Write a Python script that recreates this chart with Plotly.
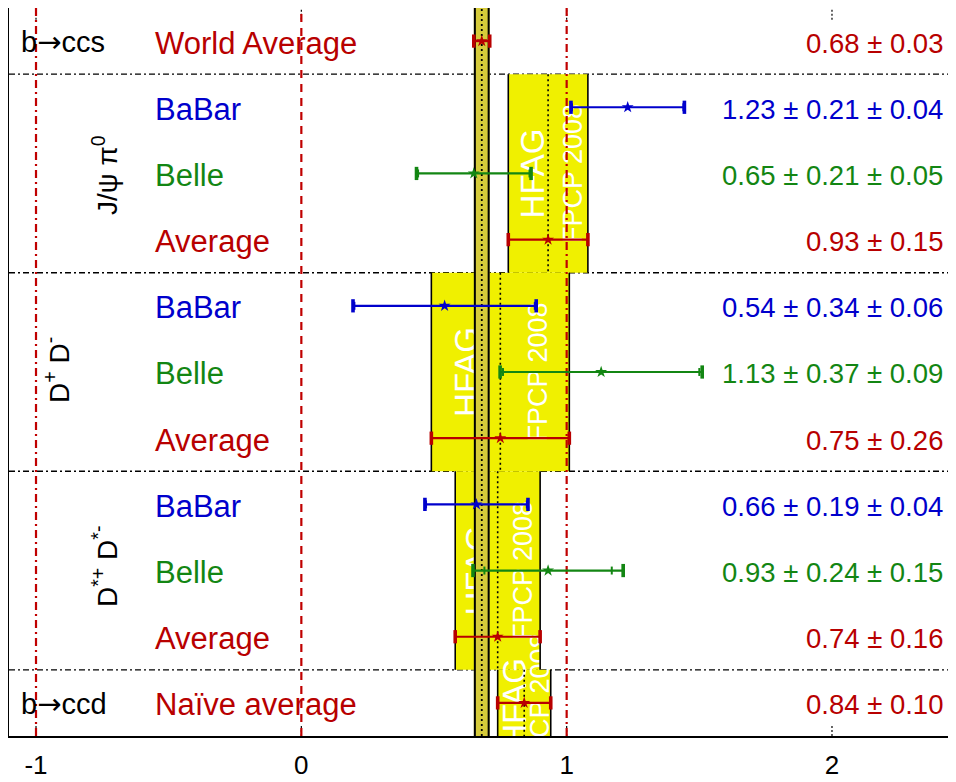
import math
import plotly.graph_objects as go

# ---------------- data ----------------
row_labels = ["World Average", "BaBar", "Belle", "Average",
              "BaBar", "Belle", "Average",
              "BaBar", "Belle", "Average", "Naïve average"]
row_source = ["avg", "babar", "belle", "avg",
              "babar", "belle", "avg",
              "babar", "belle", "avg", "avg"]
central = [0.68, 1.23, 0.65, 0.93, 0.54, 1.13, 0.75, 0.66, 0.93, 0.74, 0.84]
err_stat = [0.03, 0.21, 0.21, 0.15, 0.34, 0.37, 0.26, 0.19, 0.24, 0.16, 0.10]
err_syst = [0.0, 0.04, 0.05, 0.0, 0.06, 0.09, 0.0, 0.04, 0.15, 0.0, 0.0]

ARROW = '<span style="font-family:DejaVu Sans">→</span>'
group_names = ["b" + ARROW + "ccs", "J/ψ π<sup>0</sup>", "D<sup>+</sup> D<sup>-</sup>",
               "D<sup>*+</sup> D<sup>*-</sup>", "b" + ARROW + "ccd"]
group_first = [0, 1, 4, 7, 10]
group_last = [0, 3, 6, 9, 10]
hfag_groups = [1, 2, 3, 4]          # groups that get an HFAG box
hfag_avg_row = [3, 6, 9, 10]        # average row defining each box
world_row = 0
tick_vals = [-1, 0, 1, 2]
tick_text = ["-1", "0", "1", "2"]

# ---------------- styling ----------------
OFF = 8                      # page body margin
W, H = 956 - OFF, 782 - OFF
ML, MR, MT, MB = 1, 0, 0, 46
XR = [-1.1018, 2.4674]
NROW = len(row_labels)
YR = [NROW - 0.5, -0.5]
PW = W - ML - MR
PH = H - MT - MB
FONT = "Liberation Sans, Arial, Helvetica, sans-serif"

COL = {"avg": "#b80000", "babar": "#0000cc", "belle": "#138613"}
YELLOW = "#f0f000"
BAND = "#d6cb3a"
REDLINE = "#c00000"


def px2x(px):
    return XR[0] + (px - OFF - ML) / PW * (XR[1] - XR[0])


def px2paper(px):
    return (px - OFF - ML) / PW


def py2y(py):
    return -0.5 + (py - OFF - MT) / PH * NROW


# label positions (screen pixels) of the rotated box texts
hfag_px = [530, 463, 475, 512]
fpcp_px = [570, 535, 520, 537]

shapes = []

# HFAG yellow boxes
for k, g in enumerate(hfag_groups):
    r = hfag_avg_row[k]
    shapes.append(dict(type="rect", xref="x", yref="y", layer="below",
                       x0=central[r] - err_stat[r], x1=central[r] + err_stat[r],
                       y0=group_first[g] - 0.5, y1=group_last[g] + 0.5,
                       fillcolor=YELLOW, line=dict(width=0)))

# rotated white texts inside boxes
for k, g in enumerate(hfag_groups):
    yc = (group_first[g] + group_last[g]) / 2
    for pxc, txt, sz in [(hfag_px[k], "HFAG", 33), (fpcp_px[k], "FPCP 2008", 27)]:
        xc = px2x(pxc)
        shapes.append(dict(type="rect", xref="x", yref="y", layer="below",
                           x0=xc - 0.01, x1=xc + 0.01, y0=yc - 0.05, y1=yc + 0.05,
                           fillcolor="rgba(0,0,0,0)", line=dict(width=0),
                           label=dict(text=txt, textangle=-90, textposition="middle center",
                                      font=dict(family=FONT, size=sz, color="white"))))

# box edges and central dotted lines
for k, g in enumerate(hfag_groups):
    r = hfag_avg_row[k]
    y0, y1 = group_first[g] - 0.5, group_last[g] + 0.5
    for xe in (central[r] - err_stat[r], central[r] + err_stat[r]):
        shapes.append(dict(type="line", xref="x", yref="y", layer="below",
                           x0=xe, x1=xe, y0=y0, y1=y1,
                           line=dict(color="black", width=1.6)))
    shapes.append(dict(type="line", xref="x", yref="y", layer="below",
                       x0=central[r], x1=central[r], y0=y0, y1=y1,
                       line=dict(color="black", width=1.6, dash="2px,3px")))

# world-average band
wc, we = central[world_row], err_stat[world_row]
shapes.append(dict(type="rect", xref="x", yref="y", layer="below",
                   x0=wc - we, x1=wc + we, y0=YR[0], y1=YR[1],
                   fillcolor=BAND, line=dict(width=0)))
for xe in (wc - we + 0.004, wc + we - 0.004):
    shapes.append(dict(type="line", xref="x", yref="y", layer="below",
                       x0=xe, x1=xe, y0=YR[0], y1=YR[1],
                       line=dict(color="black", width=2)))
shapes.append(dict(type="line", xref="x", yref="y", layer="below",
                   x0=wc, x1=wc, y0=YR[0], y1=YR[1],
                   line=dict(color="black", width=1.8, dash="2px,3px")))

# red reference lines
for xv, dash in [(-1, "8px,4px,2px,4px"), (0, "8px,6px"), (1, "8px,4px,2px,4px")]:
    shapes.append(dict(type="line", xref="x", yref="y", layer="below",
                       x0=xv, x1=xv, y0=YR[0], y1=YR[1],
                       line=dict(color=REDLINE, width=2.2, dash=dash)))

# group separators
for g in range(len(group_first) - 1):
    ys = group_last[g] + 0.5
    shapes.append(dict(type="line", xref="paper", yref="y", layer="below",
                       x0=0, x1=1, y0=ys, y1=ys,
                       line=dict(color="black", width=1.3, dash="6px,3px,2px,3px")))

# dotted tick marks
for tv in tick_vals:
    for (a, b) in [(0, 0.016), (0.984, 1)]:
        shapes.append(dict(type="line", xref="x", yref="paper", layer="below",
                           x0=tv, x1=tv, y0=a, y1=b,
                           line=dict(color="black", width=1.2, dash="2px,2px")))

fig = go.Figure()

# error bars
CAP = 0.1
TICK = 0.06
for src in ["avg", "babar", "belle"]:
    lx, ly, cx, cy, tx, ty, mx, my = [], [], [], [], [], [], [], []
    for i in range(NROW):
        if row_source[i] != src:
            continue
        c = central[i]
        tot = math.sqrt(err_stat[i] ** 2 + err_syst[i] ** 2)
        lx += [c - tot, c + tot, None]
        ly += [i, i, None]
        for xe in (c - tot, c + tot):
            cx += [xe, xe, None]
            cy += [i - CAP, i + CAP, None]
        if err_syst[i] > 0:
            for xe in (c - err_stat[i], c + err_stat[i]):
                tx += [xe, xe, None]
                ty += [i - TICK, i + TICK, None]
        mx.append(c)
        my.append(i)
    col = COL[src]
    fig.add_trace(go.Scatter(x=lx, y=ly, mode="lines", line=dict(color=col, width=2.2),
                             hoverinfo="skip", showlegend=False))
    fig.add_trace(go.Scatter(x=cx, y=cy, mode="lines", line=dict(color=col, width=3.6),
                             hoverinfo="skip", showlegend=False))
    if tx:
        fig.add_trace(go.Scatter(x=tx, y=ty, mode="lines", line=dict(color=col, width=2),
                                 hoverinfo="skip", showlegend=False))
    fig.add_trace(go.Scatter(x=mx, y=my, mode="markers",
                             marker=dict(symbol="star", size=9, color=col, line=dict(width=0)),
                             hoverinfo="skip", showlegend=False))

annotations = []
for i in range(NROW):
    col = COL[row_source[i]]
    annotations.append(dict(xref="paper", yref="y", x=px2paper(153), y=i + 0.03,
                            xanchor="left", yanchor="middle", showarrow=False,
                            text=row_labels[i], font=dict(family=FONT, size=31, color=col)))
    vt = f"{central[i]:.2f} ± {err_stat[i]:.2f}"
    if err_syst[i] > 0:
        vt += f" ± {err_syst[i]:.2f}"
    annotations.append(dict(xref="paper", yref="y", x=px2paper(945), y=i + 0.03,
                            xanchor="right", yanchor="middle", showarrow=False,
                            text=vt, font=dict(family=FONT, size=27.5, color=col)))

# group labels
group_pos = [(19, None, 0), (105, 175, -90), (57, 370, -90), (105, 567, -90), (19, None, 0)]
for g, name in enumerate(group_names):
    px, py, ang = group_pos[g]
    if ang == 0:
        annotations.append(dict(xref="paper", yref="y", x=px2paper(px), y=group_first[g] + 0.02,
                                xanchor="left", yanchor="middle", showarrow=False,
                                text=name, font=dict(family=FONT, size=29, color="black")))
    else:
        annotations.append(dict(xref="paper", yref="y", x=px2paper(px), y=py2y(py),
                                xanchor="center", yanchor="middle", showarrow=False,
                                textangle=ang,
                                text=name, font=dict(family=FONT, size=28, color="black")))

fig.update_layout(
    width=W, height=H,
    margin=dict(l=ML, r=MR, t=MT, b=MB, pad=0, autoexpand=False),
    paper_bgcolor="white", plot_bgcolor="white",
    shapes=shapes, annotations=annotations,
    showlegend=False,
    xaxis=dict(range=XR, showgrid=False, zeroline=False, showline=True, mirror=True,
               linecolor="black", linewidth=1.5, ticks="", automargin=False,
               tickvals=tick_vals, ticktext=tick_text, ticklabelstandoff=5,
               tickfont=dict(family=FONT, size=26, color="black")),
    yaxis=dict(range=YR, showgrid=False, zeroline=False, showline=True, mirror=False,
               automargin=False,
               linecolor="black", linewidth=1.5, showticklabels=False, ticks=""),
)

fig.write_html("out.html")
